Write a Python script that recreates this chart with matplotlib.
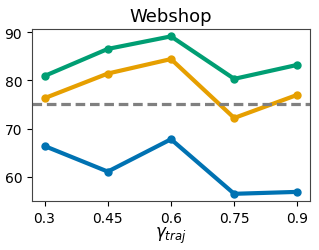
import matplotlib.pyplot as plt

gammas = [0.3, 0.45, 0.6, 0.75, 0.9]
verde = [80.9, 86.5, 89.1, 80.3, 83.2]
naranja = [76.3, 81.4, 84.4, 72.2, 77.0]
azul = [66.4, 61.1, 67.8, 56.5, 56.9]
baseline = 75.1

fig, ax = plt.subplots(figsize=(3.19, 2.51), dpi=100)

ax.plot(gammas, azul, color='#0072B2', lw=3, marker='o', ms=5)
ax.plot(gammas, naranja, color='#E69F00', lw=3, marker='o', ms=5)
ax.plot(gammas, verde, color='#009E73', lw=3, marker='o', ms=5)
ax.axhline(baseline, color='gray', lw=2.3, ls='--', dashes=(3, 1.5))

ax.set_xticks(gammas)
ax.set_xticklabels(['0.3', '0.45', '0.6', '0.75', '0.9'])
ax.set_yticks([60, 70, 80, 90])
ax.set_ylim(55, 90.6)
ax.tick_params(labelsize=10)
for s in ax.spines.values():
    s.set_color('#444444')
ax.set_xlabel(r'$\gamma_{traj}$', fontsize=12, labelpad=0)
ax.set_title('Webshop', fontsize=13)

fig.subplots_adjust(left=0.1, right=0.972, top=0.88, bottom=0.195)
fig.savefig('out.png')
